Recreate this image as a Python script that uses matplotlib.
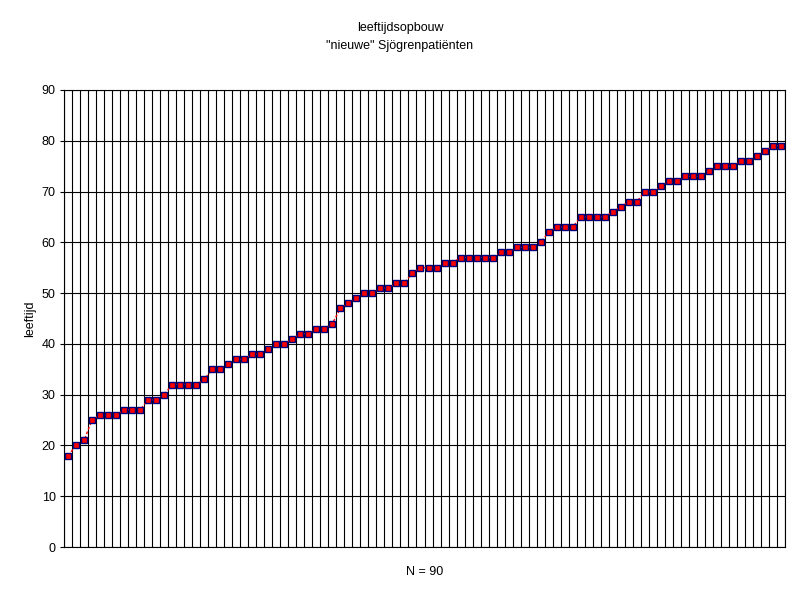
import matplotlib
matplotlib.use("Agg")
import matplotlib.pyplot as plt
import numpy as np

plt.rcParams['font.family'] = ['Liberation Sans', 'DejaVu Sans']

title_lines = ["leeftijdsopbouw", "\"nieuwe\" Sjögrenpatiënten"]
x_label = "N = 90"
y_label = "leeftijd"
y_ticks = [0, 10, 20, 30, 40, 50, 60, 70, 80, 90]

ages = [18, 20, 21, 25, 26, 26, 26, 27, 27, 27,
        29, 29, 30, 32, 32, 32, 32, 33, 35, 35,
        36, 37, 37, 38, 38, 39, 40, 40, 41, 42,
        42, 43, 43, 44, 47, 48, 49, 50, 50, 51,
        51, 52, 52, 54, 55, 55, 55, 56, 56, 57,
        57, 57, 57, 57, 58, 58, 59, 59, 59, 60,
        62, 63, 63, 63, 65, 65, 65, 65, 66, 67,
        68, 68, 70, 70, 71, 72, 72, 73, 73, 73,
        74, 75, 75, 75, 76, 76, 77, 78, 79, 79]

n = len(ages)
xs = np.arange(1, n + 1)

fig = plt.figure(figsize=(8, 6), dpi=100)
ax = fig.add_axes([64/800, 1 - 547/600, (785-64)/800, (547-90)/600])

ax.set_xlim(0.5, n + 0.5)
ax.set_ylim(0, 90)
ax.set_yticks(y_ticks)
ax.set_xticks([])
ax.set_xticks(np.arange(0.5, n + 1.5, 1.0), minor=True)
ax.tick_params(axis='x', which='both', length=0, labelbottom=False)
ax.tick_params(axis='y', length=3, width=0.8, labelsize=9, pad=3, colors='black')

ax.grid(True, which='minor', axis='x', color='black', linewidth=0.8)
ax.grid(True, which='major', axis='y', color='black', linewidth=0.8)
ax.set_axisbelow(True)
for s in ax.spines.values():
    s.set_color('black')
    s.set_linewidth(0.8)

ax.plot(xs, ages, color='red', linestyle=(0, (2, 1.5)), linewidth=1.0,
        marker='s', markersize=4.8, markerfacecolor='red',
        markeredgecolor='#000080', markeredgewidth=1.0, zorder=3)

ax.set_xlabel(x_label, fontsize=9, labelpad=14)
ax.set_ylabel(y_label, fontsize=9, labelpad=4)

fig.text(0.5, 1 - 28/600, title_lines[0], ha='center', va='center', fontsize=9)
fig.text(0.5, 1 - 46/600, title_lines[1], ha='center', va='center', fontsize=9)

fig.savefig("out.png", dpi=100, facecolor='white')
